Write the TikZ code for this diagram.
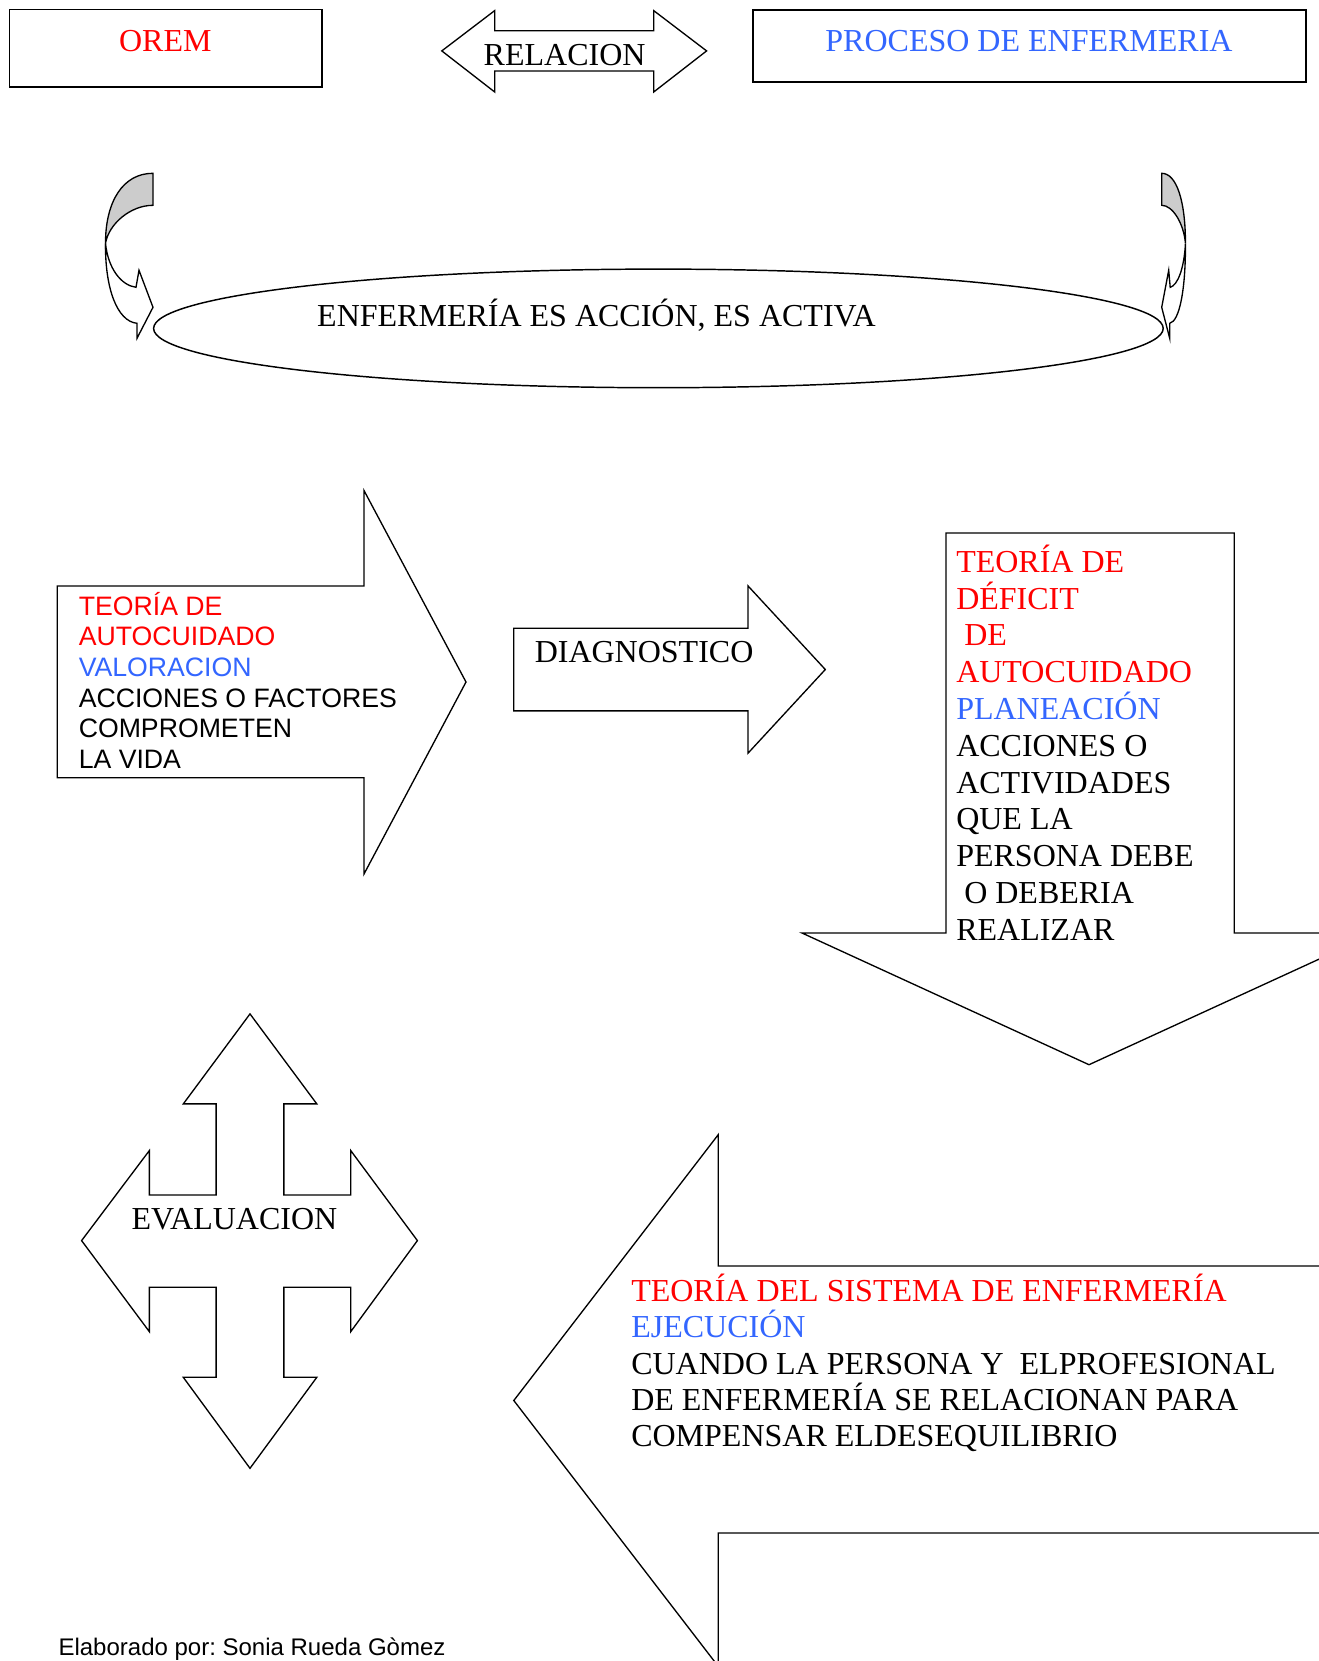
\documentclass[tikz,border=0pt]{standalone}
\usepackage{fontspec}
\setmainfont{Liberation Serif}
\setsansfont{Liberation Sans}
\definecolor{txtred}{RGB}{255,0,0}
\definecolor{txtblue}{RGB}{51,102,255}
\definecolor{backgrey}{RGB}{204,204,204}

\tikzset{
  outline/.style={draw=black, line width=1pt, fill=white, line join=miter},
  serif/.style={font=\fontsize{24}{27.6}\selectfont, inner sep=0pt},
  sans/.style={font=\sffamily\fontsize{20}{23}\selectfont, inner sep=0pt}
}

% curved arrow: grey back band turning into a white front band with a head
\newcommand{\curvedarrowshape}{%
  \path[outline, fill=backgrey]
    (0,0) .. controls (-30,0) and (-47.5,28) .. (-47.5,70)
    .. controls (-44,50) and (-22,32) .. (0,32) -- cycle;
  \path[outline]
    (-47.5,70) .. controls (-48,115) and (-36,148) .. (-16,150)
    -- (-16,165) -- (0,134) -- (-14,97) -- (-17,114)
    .. controls (-32,112) and (-45,95) .. (-47.5,70) -- cycle;
}

\begin{document}
\frenchspacing
\begin{tikzpicture}[x=0.75pt, y=-0.75pt]
\useasboundingbox (0,0) rectangle (1319,1661);
\clip (0,0) rectangle (1319,1661);

% --- header ---
\path[outline, line width=1.2pt] (9.5,9.5) rectangle (322,87);
\node[serif, anchor=base, text=txtred] (orem) at (165.3,51) {OREM};

\path[outline] (441.8,50.9) -- (494.7,10.6) -- (494.7,30.7) -- (653.7,30.7)
  -- (653.7,10.6) -- (706.6,50.9) -- (653.7,92) -- (653.7,71) -- (494.7,71)
  -- (494.7,92) -- cycle;
\node[serif, anchor=base] (relacion) at (564.6,65.5) {RELACION};

\path[outline, line width=1.5pt] (753,9.5) rectangle (1306,81.5);
\node[serif, anchor=base, text=txtblue] (proceso) at (1029,51) {PROCESO DE ENFERMERIA};

% --- curved arrows and ellipse ---
\begin{scope}[shift={(153,173.3)}]
  \curvedarrowshape
\end{scope}
\begin{scope}[shift={(1161.7,173.3)}, xscale=-0.5]
  \curvedarrowshape
\end{scope}

\draw[line width=1.1pt, fill=white] (658.4,328.4) ellipse [x radius=504.8, y radius=59.3];
\node[serif, anchor=base] (accion) at (596.5,326) {ENFERMERÍA ES ACCIÓN, ES ACTIVA};

% --- valoracion arrow ---
\path[outline] (57.3,586) -- (364,586) -- (364,490.5) -- (466,682) -- (364,874)
  -- (364,777.7) -- (57.3,777.7) -- cycle;
\node[sans, anchor=base west] (valoracion) at (78.5,615)
  {\vtop{\hbox{\textcolor{txtred}{TEORÍA DE}}
         \hbox{\textcolor{txtred}{AUTOCUIDADO}}
         \hbox{\textcolor{txtblue}{VALORACION}}
         \hbox{ACCIONES O FACTORES}
         \hbox{COMPROMETEN}
         \hbox{LA VIDA}}};

% --- diagnostico arrow ---
\path[outline] (513.8,628.2) -- (748,628.2) -- (748,585.9) -- (825.3,669.5)
  -- (748,753.2) -- (748,710.9) -- (513.8,710.9) -- cycle;
\node[serif, anchor=base west] (diagnostico) at (534.5,662) {DIAGNOSTICO};

% --- planeacion arrow (pointing down) ---
\path[outline] (946,533) -- (1234.2,533) -- (1234.2,933) -- (1376,933)
  -- (1089,1064.7) -- (802,933) -- (946,933) -- cycle;
\node[serif, anchor=base west] (planeacion) at (956,572.3)
  {\vtop{\hbox{\textcolor{txtred}{TEORÍA DE}}
         \hbox{\textcolor{txtred}{DÉFICIT}}
         \hbox{\textcolor{txtred}{\ DE}}
         \hbox{\textcolor{txtred}{AUTOCUIDADO}}
         \hbox{\textcolor{txtblue}{PLANEACIÓN}}
         \hbox{ACCIONES O}
         \hbox{ACTIVIDADES}
         \hbox{QUE LA}
         \hbox{PERSONA DEBE}
         \hbox{\ O DEBERIA}
         \hbox{REALIZAR}}};

% --- evaluacion four-way arrow ---
\path[outline] (250,1013.9) -- (316.8,1103.9) -- (283.9,1103.9) -- (283.9,1195)
  -- (350.7,1195) -- (350.7,1150.5) -- (417.4,1240.6) -- (350.7,1331.7)
  -- (350.7,1287.2) -- (283.9,1287.2) -- (283.9,1377.3) -- (316.8,1377.3)
  -- (250,1468.3) -- (183.3,1377.3) -- (216.1,1377.3) -- (216.1,1287.2)
  -- (149.4,1287.2) -- (149.4,1331.7) -- (81.6,1240.6) -- (149.4,1150.5)
  -- (149.4,1195) -- (216.1,1195) -- (216.1,1103.9) -- (183.3,1103.9) -- cycle;
\node[serif, anchor=base west] (evaluacion) at (131.4,1229) {EVALUACION};

% --- ejecucion arrow (pointing left) ---
\path[outline] (1330,1266) -- (718.3,1266) -- (718.3,1134.6) -- (513.8,1400.5)
  -- (718.3,1666.4) -- (718.3,1533) -- (1330,1533) -- cycle;
\node[serif, font=\fontsize{24}{27.2}\selectfont, anchor=base west] (ejecucion) at (631,1301.7)
  {\vtop{\hbox{\textcolor{txtred}{TEORÍA DEL SISTEMA DE ENFERMERÍA}}
         \hbox{\textcolor{txtblue}{EJECUCIÓN}}
         \hbox{CUANDO LA PERSONA Y \ ELPROFESIONAL}
         \hbox{DE ENFERMERÍA SE RELACIONAN PARA}
         \hbox{COMPENSAR ELDESEQUILIBRIO}}};

% --- footer ---
\node[font=\sffamily\fontsize{18}{21.6}\selectfont, anchor=base west, inner sep=0pt]
  (autor) at (58.3,1655) {Elaborado por: Sonia Rueda Gòmez};
\end{tikzpicture}
\end{document}
